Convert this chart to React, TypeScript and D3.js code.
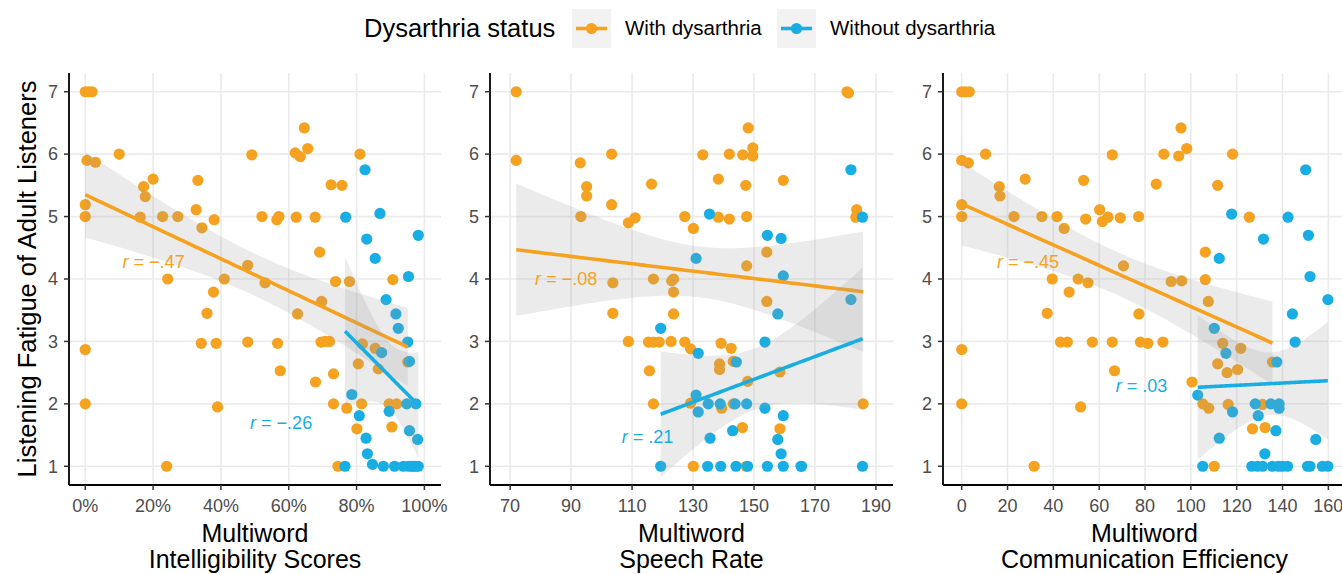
import * as d3 from "d3";

type Pt = [number, number];

const ORANGE = "#F4A21F";
const BLUE = "#18AEE4";
const FONT = "'Liberation Sans', Arial, Helvetica, sans-serif";

// intelligibility (proportion), listening fatigue
const intelWith: Pt[] = [
  [0, 7], [0.01, 7], [0.02, 7], [0.005, 5.9], [0.03, 5.87], [0.1, 6.0], [0, 5.19], [0, 5.0], [0, 2.87], [0, 2.0],
  [0.172, 5.48], [0.177, 5.32], [0.2, 5.6], [0.162, 4.99], [0.228, 5.0], [0.273, 5.0], [0.243, 4.0], [0.24, 1.0],
  [0.332, 5.58], [0.327, 5.11], [0.344, 4.82], [0.38, 4.95], [0.378, 3.79], [0.359, 3.45], [0.342, 2.97], [0.386, 2.97], [0.39, 1.95],
  [0.41, 4.0], [0.479, 4.22], [0.491, 5.99], [0.479, 2.99], [0.521, 5.0], [0.53, 3.94], [0.565, 4.95], [0.571, 5.0], [0.567, 2.97], [0.575, 2.53],
  [0.619, 6.02], [0.634, 5.96], [0.646, 6.42], [0.656, 6.09], [0.622, 4.99], [0.626, 3.44], [0.678, 4.99], [0.691, 4.43], [0.697, 3.64], [0.679, 2.35],
  [0.695, 2.99], [0.707, 3.0], [0.72, 3.0], [0.725, 5.51], [0.757, 5.5], [0.732, 2.48], [0.738, 3.96], [0.779, 3.96], [0.732, 2.0], [0.745, 1.0], [0.771, 1.93],
  [0.81, 6.0], [0.805, 2.64], [0.817, 2.96], [0.815, 2.0], [0.801, 1.6], [0.855, 2.89], [0.864, 2.56], [0.907, 3.99], [0.896, 2.0], [0.918, 2.0], [0.904, 1.63], [0.951, 2.67],
];
const intelWithout: Pt[] = [
  [0.768, 4.99], [0.825, 5.75], [0.83, 4.64], [0.855, 4.33], [0.869, 5.05], [0.887, 3.67], [0.916, 3.44], [0.923, 3.21], [0.951, 2.99], [0.953, 4.04],
  [0.982, 4.7], [0.874, 2.82], [0.956, 2.68], [0.786, 2.15], [0.808, 1.81], [0.828, 1.45], [0.832, 1.2], [0.847, 1.03], [0.879, 1.0], [0.912, 1.0],
  [0.938, 1.0], [0.953, 1.0], [0.962, 1.0], [0.968, 1.0], [0.975, 1.0], [0.982, 1.0], [0.766, 1.0], [0.896, 1.88], [0.948, 2.0], [0.975, 2.0],
  [0.956, 1.57], [0.98, 1.43],
];

// speech rate
const rateWith: Pt[] = [
  [72, 7], [180.5, 7], [181, 6.98], [72, 5.9], [93, 5.86], [103.3, 6.0], [95.1, 5.48], [95.1, 5.33], [103.3, 5.19], [93.2, 5.0],
  [108.8, 4.9], [111, 4.98], [116.4, 5.52], [127.3, 5.0], [130.1, 4.81], [133.2, 5.99], [138.3, 5.6], [138.3, 4.99], [141.9, 4.96], [141.9, 6.0],
  [146.3, 5.99], [148.1, 6.42], [149.6, 6.1], [149.6, 5.97], [147.3, 5.5], [147.6, 5.0], [159.6, 5.58], [154.2, 4.43], [147.6, 4.21], [154.2, 3.64],
  [183.7, 5.11], [183.4, 4.99], [185.8, 2.0], [103.7, 3.94], [103.7, 3.45], [117, 4.0], [123, 3.97], [123.6, 4.0], [123.6, 3.79], [123.6, 3.44],
  [108.8, 3.0], [115.4, 2.99], [117, 2.99], [118.9, 2.99], [122.8, 3.0], [127.3, 2.99], [129.2, 2.88], [115.7, 2.53], [117, 2.0], [129.2, 2.01],
  [130.1, 1.0], [139.2, 2.97], [142.5, 2.89], [138.7, 2.64], [138.7, 2.55], [143.2, 2.68], [139.4, 1.93], [143.2, 2.0], [147.9, 2.36], [146.2, 1.62],
  [147.4, 1.0], [158.5, 2.51], [158.5, 1.6],
];
const rateWithout: Pt[] = [
  [181.8, 5.75], [185.6, 4.99], [181.8, 3.67], [185.6, 1.0], [135.4, 5.04], [154.4, 4.7], [158.9, 4.65], [131, 4.33], [159.6, 4.05], [157.8, 3.44],
  [119.4, 3.21], [153.6, 2.99], [131.7, 2.81], [144.2, 2.67], [131, 2.14], [131.7, 1.87], [135, 2.0], [138.9, 2.0], [143.8, 2.0], [147.6, 2.0],
  [153.6, 1.93], [159.6, 1.81], [135.6, 1.45], [143, 1.57], [157.8, 1.43], [158.9, 1.2], [119.4, 1.0], [134.8, 1.0], [139.1, 1.0], [144.1, 1.0],
  [147.9, 1.0], [154.4, 1.0], [159.6, 1.0], [165.4, 1.0], [165.6, 1.0],
];

// communication efficiency
const effWith: Pt[] = [
  [0, 7], [1.5, 7], [3.3, 7], [0, 5.9], [2.9, 5.86], [10.4, 6.0], [0, 5.19], [0, 5.0], [0, 2.87], [0, 2.0],
  [16.4, 5.48], [16.7, 5.33], [27.7, 5.6], [22.8, 5.0], [35, 5.0], [41.6, 5.0], [44.7, 4.81], [53.2, 5.58], [54.1, 4.96], [60.2, 5.11],
  [61.4, 4.92], [63.8, 4.99], [65.7, 5.99], [69.2, 4.98], [70.6, 4.21], [77.2, 5.0], [84.9, 5.52], [88.2, 6.0], [94.7, 5.97], [95.7, 6.42],
  [98.2, 6.09], [39.5, 4.0], [50.8, 4.0], [55.1, 3.94], [46.9, 3.79], [37.3, 3.45], [43.1, 2.99], [46.1, 2.99], [57, 2.99], [65.7, 2.99],
  [78, 2.99], [81.2, 2.97], [87.8, 2.99], [66.7, 2.53], [77.3, 3.44], [91.4, 3.96], [96, 3.97], [51.9, 1.95], [31.6, 1.0], [118.2, 6.0],
  [111.7, 5.5], [125.5, 4.99], [106.3, 4.43], [106.3, 3.99], [107.6, 3.64], [113.9, 2.97], [121.8, 2.89], [111.7, 2.64], [115.8, 2.5], [120.4, 2.55],
  [100.5, 2.35], [105.2, 2.0], [107.8, 1.93], [116.3, 1.99], [131.3, 1.99], [126.9, 1.6], [132.4, 1.62], [135.6, 2.67], [110.2, 1.0],
];
const effWithout: Pt[] = [
  [150.1, 5.75], [142.4, 4.99], [151.3, 4.7], [117.8, 5.04], [131.7, 4.64], [112.4, 4.33], [152, 4.04], [159.8, 3.67], [144.3, 3.44], [145.5, 2.99],
  [110.2, 3.21], [115.3, 2.81], [137.5, 2.67], [103, 2.14], [118.2, 1.87], [128.1, 2.0], [134.9, 2.0], [138.5, 2.0], [138.5, 1.93], [129.4, 1.81],
  [137.1, 1.57], [112.4, 1.45], [154.5, 1.43], [132.3, 1.2], [105.2, 1.0], [126.6, 1.0], [129.1, 1.0], [131.3, 1.0], [135.6, 1.0], [138.1, 1.0],
  [140, 1.0], [142.2, 1.0], [150.9, 1.0], [152, 1.0], [157.4, 1.0], [159.8, 1.0],
];

const yTicks = [1, 2, 3, 4, 5, 6, 7];
const intelTicks = [0, 0.2, 0.4, 0.6, 0.8, 1];
const rateTicks = [70, 90, 110, 130, 150, 170, 190];
const effTicks = [0, 20, 40, 60, 80, 100, 120, 140, 160];

// r labels: [x, y, text]
const intelLabels: [number, number, string][] = [[0.11, 4.28, "= \u2212.47"], [0.486, 1.7, "= \u2212.26"]];
const rateLabels: [number, number, string][] = [[78.2, 4.0, "= \u2212.08"], [106.6, 1.48, "= .21"]];
const effLabels: [number, number, string][] = [[15.4, 4.28, "= \u2212.45"], [67.2, 2.29, "= .03"]];

const groups = ["With dysarthria", "Without dysarthria"];
const colors = [ORANGE, BLUE];

// t quantile (0.975) approximation
function tq(df: number) {
  const z = 1.959964;
  return z + (z ** 3 + z) / (4 * df) + (5 * z ** 5 + 16 * z ** 3 + 3 * z) / (96 * df * df);
}

// lm fit + 95% band, like geom_smooth(method = "lm")
function fit(pts: Pt[]) {
  const n = pts.length;
  const mx = d3.mean(pts, (d) => d[0])!;
  const my = d3.mean(pts, (d) => d[1])!;
  const sxx = d3.sum(pts, (d) => (d[0] - mx) ** 2);
  const sxy = d3.sum(pts, (d) => (d[0] - mx) * (d[1] - my));
  const b = sxy / sxx;
  const a = my - b * mx;
  const sse = d3.sum(pts, (d) => (d[1] - a - b * d[0]) ** 2);
  const s = Math.sqrt(sse / (n - 2));
  const t = tq(n - 2);
  const [x0, x1] = d3.extent(pts, (d) => d[0]) as [number, number];
  return d3.range(80).map((i) => {
    const x = x0 + ((x1 - x0) * i) / 79;
    const y = a + b * x;
    const h = t * s * Math.sqrt(1 / n + (x - mx) ** 2 / sxx);
    return { x, y, lo: y - h, hi: y + h };
  });
}

const yScale = d3.scaleLinear().domain([0.7, 7.3]).range([485, 73]);

type PanelDef = {
  series: Pt[][];
  domain: [number, number];
  range: [number, number];
  ticks: number[];
  fmt: (v: number) => string;
  title: string[];
  labels: [number, number, string][];
};

const panels: PanelDef[] = [
  { series: [intelWith, intelWithout], domain: [-0.048, 1.049], range: [69, 441], ticks: intelTicks, fmt: d3.format(".0%"), title: ["Multiword", "Intelligibility Scores"], labels: intelLabels },
  { series: [rateWith, rateWithout], domain: [63.4, 195.6], range: [490, 893], ticks: rateTicks, fmt: (v) => String(v), title: ["Multiword", "Speech Rate"], labels: rateLabels },
  { series: [effWith, effWithout], domain: [-8.16, 167.7], range: [943, 1346], ticks: effTicks, fmt: (v) => String(v), title: ["Multiword", "Communication Efficiency"], labels: effLabels },
];

function Panel({ p, idx }: { p: PanelDef; idx: number }) {
  const x = d3.scaleLinear().domain(p.domain).range(p.range);
  const [left, right] = p.range;
  const top = 73;
  const bottom = 485;
  const area = d3
    .area<{ x: number; lo: number; hi: number }>()
    .x((d) => x(d.x))
    .y0((d) => yScale(d.lo))
    .y1((d) => yScale(d.hi));
  const line = d3
    .line<{ x: number; y: number }>()
    .x((d) => x(d.x))
    .y((d) => yScale(d.y));
  const fits = p.series.map(fit);
  const cx = (left + right) / 2;
  return (
    <g>
      <defs>
        <clipPath id={`clip${idx}`}>
          <rect x={left} y={top} width={right - left} height={bottom - top} />
        </clipPath>
      </defs>
      {yTicks.map((t) => (
        <line key={"gy" + t} x1={left} x2={right} y1={yScale(t)} y2={yScale(t)} stroke="#EBEBEB" strokeWidth={1.6} />
      ))}
      {p.ticks.map((t) => (
        <line key={"gx" + t} x1={x(t)} x2={x(t)} y1={top} y2={bottom} stroke="#EBEBEB" strokeWidth={1.6} />
      ))}
      <g clipPath={`url(#clip${idx})`}>
        {p.series.map((s, i) =>
          s.map((d, j) => <circle key={i + "-" + j} cx={x(d[0])} cy={yScale(d[1])} r={5.6} fill={colors[i]} />)
        )}
        {fits.map((f, i) => (
          <g key={"f" + i}>
            <path d={area(f) ?? ""} fill="#999999" fillOpacity={0.2} />
            <path d={line(f) ?? ""} fill="none" stroke={colors[i]} strokeWidth={3.6} />
          </g>
        ))}
      </g>
      {p.labels.map((l, i) => (
        <text key={"l" + i} x={x(l[0])} y={yScale(l[1])} dy="0.35em" fill={colors[i]} fontSize={18} fontFamily={FONT}>
          <tspan fontStyle="italic">r</tspan> {l[2]}
        </text>
      ))}
      <line x1={left} x2={left} y1={top} y2={bottom} stroke="#000" strokeWidth={1.8} />
      <line x1={left} x2={right} y1={bottom} y2={bottom} stroke="#000" strokeWidth={1.8} />
      {yTicks.map((t) => (
        <g key={"ty" + t}>
          <line x1={left - 5} x2={left} y1={yScale(t)} y2={yScale(t)} stroke="#333" strokeWidth={1.5} />
          <text x={left - 11} y={yScale(t)} dy="0.35em" textAnchor="end" fontSize={18} fill="#4D4D4D" fontFamily={FONT}>
            {t}
          </text>
        </g>
      ))}
      {p.ticks.map((t) => (
        <g key={"tx" + t}>
          <line x1={x(t)} x2={x(t)} y1={bottom} y2={bottom + 5} stroke="#333" strokeWidth={1.5} />
          <text x={x(t)} y={bottom + 27} textAnchor="middle" fontSize={18} fill="#4D4D4D" fontFamily={FONT}>
            {p.fmt(t)}
          </text>
        </g>
      ))}
      {p.title.map((s, i) => (
        <text key={"t" + i} x={cx} y={542 + i * 26} textAnchor="middle" fontSize={25} fill="#000" fontFamily={FONT}>
          {s}
        </text>
      ))}
    </g>
  );
}

function Legend() {
  const keyX = [572, 777];
  const labelX = [625, 830];
  return (
    <g fontFamily={FONT}>
      <text x={364} y={28} dy="0.35em" fontSize={25.5} fill="#000">
        Dysarthria status
      </text>
      {groups.map((g, i) => (
        <g key={g}>
          <rect x={keyX[i]} y={9} width={39} height={39} fill="#F2F2F2" />
          <line x1={keyX[i] + 4} x2={keyX[i] + 35} y1={28.5} y2={28.5} stroke={colors[i]} strokeWidth={3.6} />
          <circle cx={keyX[i] + 19.5} cy={28.5} r={5.6} fill={colors[i]} />
          <text x={labelX[i]} y={28} dy="0.35em" fontSize={20.5} fill="#000">
            {g}
          </text>
        </g>
      ))}
    </g>
  );
}

export default function App() {
  return (
    <svg width={1342} height={574} style={{ position: "absolute", left: 0, top: 0, background: "#fff" }}>
      <rect width={1342} height={574} fill="#fff" />
      <Legend />
      {panels.map((p, i) => (
        <Panel key={i} p={p} idx={i} />
      ))}
      <text transform="translate(36,279) rotate(-90)" textAnchor="middle" fontSize={25.5} fill="#000" fontFamily={FONT}>
        Listening Fatigue of Adult Listeners
      </text>
    </svg>
  );
}
